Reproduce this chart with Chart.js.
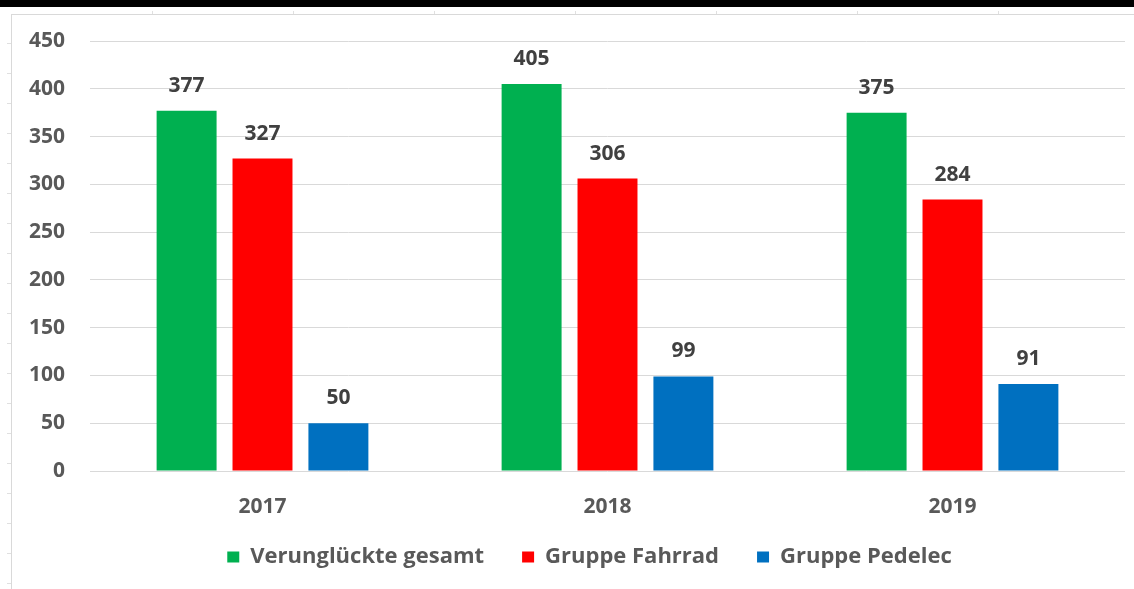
<!DOCTYPE html>
<html lang="de">
<head>
    <meta charset="UTF-8">
    <title>Verunglückte 2017 - 2019</title>
    <style>
        body { margin: 0; background: #fff; }
        #topbar { position: absolute; left: 0; top: 0; width: 1134px; height: 7px; background: #000; }
        #frame {
            position: absolute; left: 11px; top: 14px; width: 1123px; height: 575px;
            border-top: 1px solid #d9d9d9; border-left: 1px solid #d9d9d9;
        }
        #ticksLeft {
            position: absolute; left: 7px; top: 14px; width: 4px; height: 575px;
            background: repeating-linear-gradient(to bottom, transparent 0, transparent 29px, #e0e0e0 29px, #e0e0e0 30px);
        }
        #ticksTop {
            position: absolute; left: 12px; top: 11px; width: 1122px; height: 3px;
            background: repeating-linear-gradient(to right, transparent 0, transparent 140px, #e0e0e0 140px, #e0e0e0 141px);
        }
        #wrap { position: absolute; left: 12px; top: 15px; width: 1122px; height: 574px; }
    </style>
</head>
<body>
    <div id="topbar"></div>
    <div id="frame"></div>
    <div id="ticksLeft"></div>
    <div id="ticksTop"></div>
    <div id="wrap">
        <canvas id="myChart" width="1122" height="574"></canvas>
    </div>
    <script src="https://cdn.jsdelivr.net/npm/chart.js"></script>
    <script>
        // Jahre (x-Achse)
        const years = ['2017', '2018', '2019'];
        // Serien
        const seriesNames = ['Verunglückte gesamt', 'Gruppe Fahrrad', 'Gruppe Pedelec'];
        const gesamt = [377, 405, 375];
        const fahrrad = [327, 306, 284];
        const pedelec = [50, 99, 91];
        // y-Achse 0 .. 450 in 50er Schritten
        const yMin = 0;
        const yMax = 450;
        const yStep = 50;

        const tickFont = { family: 'Open Sans', size: 21, weight: 'bold' };
        const legendFont = { family: 'Open Sans', size: 22, weight: 'bold' };

        // Werte über die Balken schreiben
        const valueLabels = {
            id: 'valueLabels',
            afterDatasetsDraw(chart) {
                const ctx = chart.ctx;
                ctx.save();
                ctx.font = 'bold 21px "Open Sans"';
                ctx.fillStyle = '#404040';
                ctx.textAlign = 'center';
                ctx.textBaseline = 'alphabetic';
                chart.data.datasets.forEach(function (ds, i) {
                    chart.getDatasetMeta(i).data.forEach(function (bar, j) {
                        ctx.fillText(ds.data[j], bar.x, bar.y - 19);
                    });
                });
                ctx.restore();
            }
        };

        // Legende etwas nach oben/rechts schieben
        const legendShift = {
            id: 'legendShift',
            afterLayout(chart) {
                const lg = chart.legend;
                lg.top -= 11; lg.bottom -= 11;
                lg.left += 21; lg.right += 21;
            }
        };

        const ctx = document.getElementById('myChart');
        const mychart = new Chart(ctx, {
            type: 'bar',
            data: {
                labels: years,
                datasets: [
                    { label: seriesNames[0], data: gesamt, backgroundColor: '#00B050' },
                    { label: seriesNames[1], data: fahrrad, backgroundColor: '#FF0000' },
                    { label: seriesNames[2], data: pedelec, backgroundColor: '#0070C0' }
                ]
            },
            options: {
                responsive: false,
                animation: false,
                devicePixelRatio: 1,
                categoryPercentage: 0.66,
                barPercentage: 0.79,
                layout: {
                    padding: { left: 0, right: 9, top: 26, bottom: 0 }
                },
                plugins: {
                    legend: {
                        position: 'bottom',
                        labels: {
                            boxWidth: 12,
                            boxHeight: 11,
                            padding: 38,
                            color: '#595959',
                            font: legendFont
                        }
                    },
                    tooltip: { enabled: false }
                },
                scales: {
                    x: {
                        grid: { display: false },
                        border: { display: false },
                        ticks: { color: '#595959', font: tickFont, padding: 15 },
                        afterFit: function (scale) { scale.height = 48; }
                    },
                    y: {
                        min: yMin,
                        max: yMax,
                        grid: { color: '#d9d9d9', drawTicks: false },
                        border: { display: false },
                        ticks: { stepSize: yStep, color: '#595959', font: tickFont, padding: 25 },
                        afterFit: function (scale) {
                            scale.width = 78;
                            scale.paddingTop = 0;
                            scale.paddingBottom = 0;
                        }
                    }
                }
            },
            plugins: [valueLabels, legendShift]
        });
    </script>
</body>
</html>
